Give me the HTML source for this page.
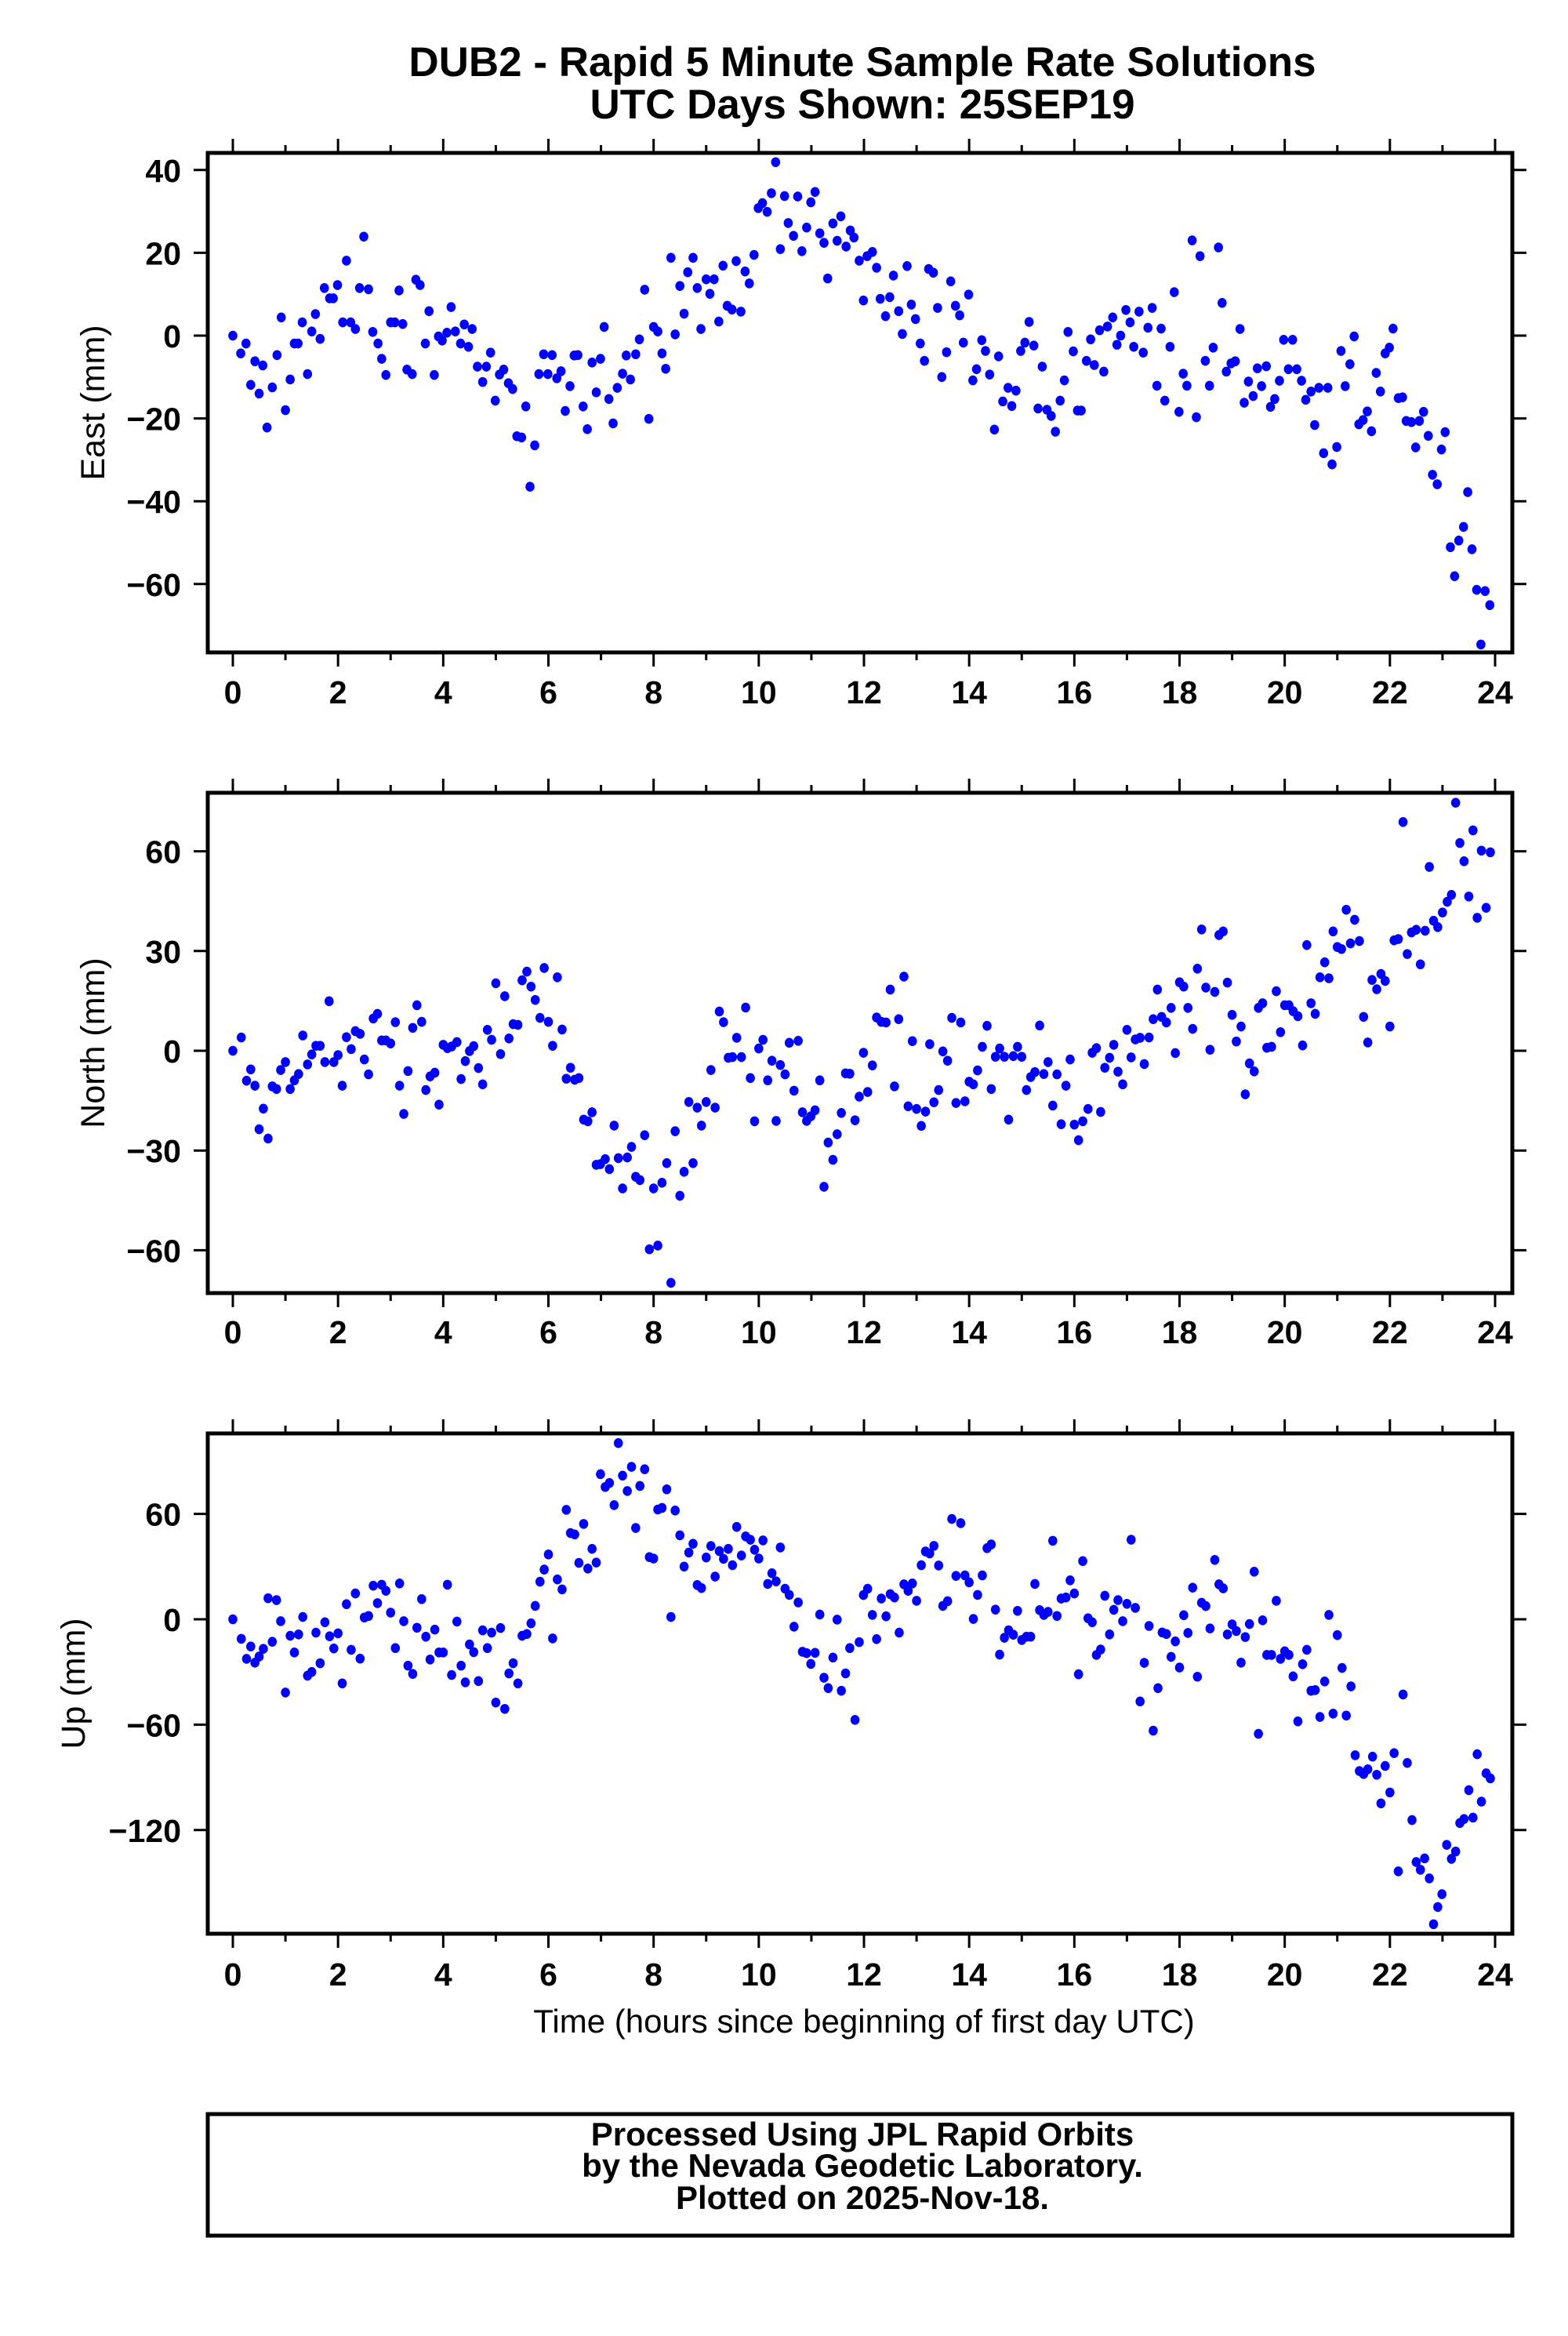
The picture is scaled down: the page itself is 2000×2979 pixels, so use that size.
<!DOCTYPE html>
<html><head><meta charset="utf-8"><style>
html,body{margin:0;padding:0;background:#fff;}
svg{display:block;font-family:"Liberation Sans",Arial,sans-serif;}
</style></head><body>
<svg id="chart" width="2000" height="2979" viewBox="0 0 2000 2979" xmlns="http://www.w3.org/2000/svg">
<rect x="0" y="0" width="2000" height="2979" fill="#fff"/>
<text x="1100" y="97" text-anchor="middle" font-size="53" font-weight="bold">DUB2 - Rapid 5 Minute Sample Rate Solutions</text>
<text x="1100" y="151" text-anchor="middle" font-size="53" font-weight="bold">UTC Days Shown:  25SEP19</text>
<text x="1102" y="2592" text-anchor="middle" font-size="42">Time (hours since beginning of first day UTC)</text>
<rect x="265" y="2696" width="1664" height="155" fill="none" stroke="#000" stroke-width="5"/>
<text x="1100" y="2736" text-anchor="middle" font-size="42" font-weight="bold">Processed Using JPL Rapid Orbits</text>
<text x="1100" y="2776" text-anchor="middle" font-size="42" font-weight="bold">by the Nevada Geodetic Laboratory.</text>
<text x="1100" y="2817" text-anchor="middle" font-size="42" font-weight="bold">Plotted on 2025-Nov-18.</text>
<g id="plots"></g>
</svg>
<script>
const xTicks = [0,2,4,6,8,10,12,14,16,18,20,22,24];
const eastTicks = [40,20,0,-20,-40,-60];
const northTicks = [60,30,0,-30,-60];
const upTicks = [60,0,-60,-120];
const eastT = [0,.15,.25,.34,.42,.5,.57,.65,.75,.84,.92,1.0,1.09,1.17,1.24,1.32,1.42,1.5,1.57,1.66,1.74,1.84,1.91,1.99,2.09,2.16,2.24,2.33,2.41,2.49,2.58,2.66,2.76,2.83,2.91,3.0,3.08,3.16,3.23,3.31,3.41,3.48,3.56,3.66,3.73,3.83,3.91,3.98,4.07,4.15,4.23,4.33,4.4,4.48,4.55,4.65,4.75,4.82,4.9,4.99,5.07,5.15,5.24,5.32,5.4,5.49,5.57,5.65,5.74,5.82,5.91,5.99,6.07,6.16,6.24,6.32,6.41,6.49,6.56,6.66,6.74,6.83,6.91,6.99,7.06,7.15,7.23,7.31,7.41,7.48,7.56,7.66,7.73,7.83,7.91,8.0,8.08,8.16,8.23,8.33,8.41,8.5,8.58,8.65,8.75,8.83,8.9,9.0,9.07,9.15,9.24,9.32,9.4,9.49,9.57,9.66,9.74,9.82,9.91,9.99,10.07,10.16,10.24,10.32,10.41,10.49,10.56,10.66,10.74,10.82,10.91,10.99,11.07,11.16,11.24,11.31,11.41,11.49,11.56,11.66,11.74,11.81,11.91,11.99,12.06,12.16,12.24,12.31,12.41,12.49,12.56,12.66,12.73,12.82,12.9,12.98,13.07,13.15,13.23,13.32,13.4,13.48,13.57,13.65,13.74,13.82,13.89,13.99,14.07,14.14,14.24,14.31,14.39,14.48,14.56,14.64,14.74,14.81,14.89,14.98,15.06,15.14,15.23,15.31,15.39,15.48,15.56,15.64,15.73,15.81,15.88,15.98,16.06,16.13,16.23,16.31,16.38,16.48,16.56,16.63,16.73,16.81,16.88,16.98,17.06,17.13,17.23,17.31,17.4,17.48,17.57,17.65,17.72,17.82,17.9,17.99,18.07,18.14,18.24,18.32,18.39,18.49,18.57,18.64,18.74,18.81,18.89,18.98,19.06,19.15,19.23,19.31,19.4,19.48,19.56,19.65,19.73,19.81,19.9,19.98,20.07,20.15,20.23,20.32,20.4,20.5,20.57,20.65,20.74,20.82,20.9,20.99,21.07,21.15,21.24,21.32,21.41,21.49,21.57,21.65,21.74,21.82,21.91,21.99,22.06,22.16,22.24,22.31,22.41,22.49,22.56,22.64,22.73,22.81,22.9,22.98,23.05,23.15,23.23,23.31,23.4,23.48,23.56,23.65,23.73,23.81,23.9];
const eastV = [0,-4.3,-1.9,-11.9,-6.2,-14,-7.2,-22.2,-12.5,-4.7,4.4,-18,-10.6,-1.9,-1.9,3.2,-9.3,1,5.2,-.8,11.5,9,9,12.2,3.2,18.1,3.2,1.6,11.5,23.9,11.2,.9,-1.9,-5.6,-9.5,3.2,3.2,10.9,2.8,-8.2,-9.3,13.5,12.2,-1.9,5.9,-9.5,-.2,-1.2,.7,6.9,1,-1.9,2.7,-2.7,1.6,-7.5,-11.2,-7.5,-4.1,-15.7,-9.4,-8.2,-11.5,-12.9,-24.3,-24.6,-17.1,-36.5,-26.5,-9.3,-4.5,-9.3,-4.7,-10.3,-8.6,-18.2,-12.2,-4.8,-4.7,-17.1,-22.6,-6.5,-13.7,-5.6,2.1,-15.3,-21.2,-12.6,-9.2,-4.8,-10.6,-4.5,-.9,11.1,-20.1,2.1,1,-4.3,-8,18.8,.3,12,5.3,15.3,18.8,11.5,1.6,13.6,10.1,13.6,3.4,16.9,7.2,6.3,18,5.8,15.5,12.6,19.5,30.8,32,29.9,34.4,41.9,20.9,33.7,27.2,24.1,33.6,20.4,26.1,32.2,34.7,24.7,22.4,13.8,27.1,22.9,28.8,21.5,25.4,23.7,18.1,8.5,19.2,20.2,16.4,8.9,4.7,9.3,14.5,5.9,.4,16.8,7.5,4,-1.9,-6.1,16.1,15.2,6.7,-10,-4,13.1,7.2,4.9,-1.7,9.9,-10.8,-8.1,-1.1,-3.7,-9.4,-22.7,-5,-15.9,-12.6,-17,-13.3,-3.7,-1.7,3.3,-2.4,-17.6,-7.5,-17.9,-19.4,-23.2,-15.7,-10.8,.9,-3.8,-18.1,-18.1,-6.1,-.9,-7.1,1.3,-8.7,2.2,4.4,-2.2,0,6.2,3.2,-2.7,5.8,-4.1,1.9,6.7,-12.1,1.7,-15.7,-2.7,10.5,-18.4,-9.2,-12.1,23,-19.7,19.2,-6.1,-12.1,-2.9,21.3,7.9,-8.7,-6.7,-6.2,1.6,-16.2,-11.1,-14.6,-7.9,-12.2,-7.4,-17.2,-15.3,-10.9,-1,-8.1,-1,-8.1,-10.9,-15.5,-13.5,-21.6,-12.6,-28.4,-12.6,-31.1,-26.9,-3.7,-12.2,-6.9,-.2,-21.4,-20.4,-18.3,-23.1,-9,-13.5,-4.3,-2.9,1.7,-15.1,-14.9,-20.6,-20.9,-27,-20.6,-18.4,-24.2,-33.6,-35.9,-27.5,-23.3,-51.1,-58.1,-49.5,-46.2,-37.8,-51.6,-61.4,-74.6,-61.7,-65.1];
const northT = [0,.16,.26,.34,.42,.5,.58,.67,.75,.83,.91,1.0,1.09,1.17,1.25,1.33,1.42,1.5,1.58,1.66,1.75,1.83,1.92,2.0,2.08,2.16,2.25,2.33,2.42,2.5,2.58,2.67,2.75,2.83,2.91,3.0,3.09,3.17,3.25,3.33,3.42,3.5,3.59,3.67,3.75,3.84,3.92,4.0,4.08,4.16,4.26,4.34,4.42,4.5,4.58,4.67,4.75,4.84,4.92,5.0,5.09,5.17,5.25,5.33,5.42,5.5,5.59,5.67,5.75,5.84,5.92,6.0,6.08,6.17,6.26,6.34,6.42,6.5,6.58,6.67,6.75,6.83,6.91,6.99,7.08,7.16,7.25,7.33,7.41,7.5,7.58,7.66,7.74,7.83,7.92,8.0,8.08,8.16,8.25,8.33,8.41,8.5,8.58,8.67,8.75,8.83,8.91,9.0,9.09,9.17,9.25,9.33,9.42,9.5,9.58,9.67,9.75,9.84,9.92,10.0,10.08,10.17,10.25,10.33,10.41,10.5,10.58,10.67,10.75,10.83,10.91,10.99,11.07,11.16,11.24,11.32,11.41,11.49,11.57,11.65,11.73,11.83,11.91,11.99,12.07,12.16,12.24,12.33,12.42,12.5,12.58,12.66,12.76,12.84,12.92,13.0,13.09,13.17,13.25,13.33,13.42,13.5,13.59,13.67,13.75,13.84,13.92,14.0,14.08,14.16,14.25,14.34,14.42,14.5,14.58,14.67,14.75,14.84,14.92,15.0,15.09,15.17,15.25,15.34,15.42,15.5,15.59,15.67,15.75,15.84,15.92,16.0,16.08,16.16,16.26,16.34,16.42,16.5,16.58,16.67,16.75,16.83,16.92,17.0,17.08,17.16,17.25,17.33,17.42,17.5,17.58,17.66,17.75,17.84,17.92,18.0,18.08,18.16,18.25,18.34,18.42,18.5,18.58,18.67,18.75,18.83,18.91,19.0,19.08,19.17,19.25,19.33,19.42,19.5,19.58,19.66,19.75,19.84,19.92,20.0,20.08,20.16,20.25,20.34,20.42,20.5,20.58,20.67,20.76,20.84,20.92,21.0,21.08,21.17,21.25,21.33,21.42,21.5,21.58,21.66,21.75,21.83,21.91,22.0,22.08,22.16,22.25,22.33,22.41,22.5,22.58,22.67,22.75,22.83,22.91,23.0,23.09,23.17,23.25,23.33,23.41,23.5,23.58,23.66,23.74,23.83,23.91];
const northV = [0,4,-9,-5.6,-10.5,-23.6,-17.4,-26.4,-10.7,-11.5,-5.8,-3.4,-11.5,-8.9,-7,4.6,-4.1,-1.1,1.5,1.5,-3.4,14.9,-3.4,-1.3,-10.5,4.1,.5,5.9,5.1,-2.6,-7.1,9.7,11.1,3.1,3.1,2.2,8.6,-10.5,-19,-6.1,6.9,13.7,8.7,-11.8,-7.7,-6.6,-16.2,1.8,.8,1.3,2.6,-8.5,-3.1,-.1,1.4,-5.2,-10.1,6.3,3.3,20.3,-1,16.4,3.7,8,7.8,21.2,23.8,19.3,15.3,9.9,24.9,8.7,1.5,22.1,6.4,-8.4,-5.1,-8.7,-8.2,-20.7,-21.2,-18.5,-34.3,-34.1,-32.6,-35.6,-22.5,-32.3,-41.4,-32.1,-28.9,-37.9,-38.9,-25.4,-59.7,-41.4,-58.6,-39.7,-33.8,-69.8,-24.2,-43.6,-36.4,-15.4,-33.8,-17.1,-22.5,-15.4,-5.8,-17.1,11.8,8.6,-2.1,-1.9,3.9,-1.9,13,-8.2,-21.2,.7,3.3,-8.9,-3,-21.1,-4.3,-7.1,2.4,-12,3,-18.5,-21.1,-19.7,-17.9,-8.9,-40.9,-27.6,-32.8,-25.1,-18.7,-6.8,-6.9,-20.9,-13.8,-.6,-12.4,-4.4,10,8.7,8.5,18.4,-10.7,9.5,22.3,-16.7,2.9,-17.5,-22.6,-18.3,2,-15.5,-11.8,-.2,-3,9.9,-15.7,8.5,-15.2,-9.3,-10.1,-5.9,1.2,7.5,-11.5,-1.8,.7,-1.8,-20.7,-1.6,1.2,-1.8,-11.8,-7.9,-6.4,7.6,-7,-3.4,-16.5,-7.1,-22.1,-10.5,-2.6,-22.2,-26.9,-21.2,-17.5,-.6,.8,-18.4,-5.1,-2.1,1.8,-6.3,-10.1,6.3,-2,3.4,3.9,-4,4,9.5,18.4,10.2,8.5,12.9,-.7,20.6,19.3,12.9,6.6,24.7,36.5,19,.3,17.7,34.8,35.9,20.5,10.8,2.8,7.3,-13.1,-3.8,-6.2,12.9,14.3,.9,1.2,17.9,5.6,13.7,13.7,11.9,10.4,1.6,31.8,14.3,11.1,22.1,26.6,21.8,35.9,31.2,30.6,42.4,32.3,39.4,33,10.2,2.5,21.3,18.5,23.1,21,7.3,33.2,33.6,68.8,29.1,35.6,36.4,26,36.1,55.3,39.1,37.2,41.6,44.8,46.9,74.6,62.5,57,46.4,66.3,40,60.2,43,59.7];
const upT = [0,.16,.26,.34,.42,.5,.58,.67,.75,.83,.91,1.0,1.09,1.17,1.25,1.33,1.42,1.5,1.58,1.66,1.75,1.84,1.92,2.0,2.08,2.16,2.25,2.33,2.42,2.5,2.58,2.67,2.75,2.83,2.91,3.0,3.09,3.17,3.25,3.33,3.42,3.5,3.59,3.67,3.75,3.84,3.92,4.0,4.08,4.16,4.26,4.34,4.42,4.5,4.58,4.67,4.75,4.84,4.92,5.0,5.09,5.17,5.25,5.33,5.42,5.5,5.59,5.67,5.75,5.84,5.92,6.0,6.08,6.17,6.26,6.34,6.42,6.5,6.58,6.67,6.75,6.83,6.91,6.99,7.08,7.16,7.25,7.33,7.41,7.5,7.58,7.66,7.74,7.83,7.92,8.0,8.08,8.16,8.25,8.33,8.41,8.5,8.58,8.67,8.75,8.83,8.91,9.0,9.09,9.17,9.25,9.33,9.42,9.5,9.58,9.67,9.75,9.84,9.92,10.0,10.08,10.17,10.25,10.33,10.41,10.5,10.58,10.67,10.75,10.83,10.91,10.99,11.07,11.16,11.24,11.32,11.41,11.49,11.57,11.65,11.73,11.83,11.91,11.99,12.07,12.16,12.24,12.33,12.42,12.5,12.58,12.67,12.76,12.84,12.92,13.0,13.09,13.17,13.25,13.33,13.42,13.5,13.59,13.67,13.75,13.84,13.92,14.0,14.08,14.16,14.25,14.34,14.42,14.5,14.58,14.67,14.75,14.84,14.92,15.0,15.09,15.17,15.25,15.34,15.42,15.5,15.59,15.67,15.75,15.84,15.92,16.0,16.08,16.16,16.26,16.34,16.42,16.5,16.58,16.67,16.75,16.83,16.92,17.0,17.08,17.16,17.25,17.33,17.42,17.5,17.59,17.67,17.75,17.84,17.92,18.0,18.08,18.16,18.25,18.34,18.42,18.5,18.58,18.67,18.75,18.83,18.91,19.0,19.08,19.17,19.25,19.33,19.42,19.5,19.58,19.66,19.75,19.84,19.92,20.0,20.08,20.16,20.25,20.34,20.42,20.5,20.58,20.67,20.76,20.84,20.92,21.0,21.09,21.17,21.26,21.34,21.42,21.5,21.58,21.67,21.75,21.83,21.91,22.0,22.08,22.16,22.25,22.33,22.42,22.5,22.58,22.66,22.75,22.83,22.91,22.99,23.08,23.17,23.25,23.33,23.41,23.5,23.58,23.66,23.74,23.83,23.91];
const upV = [0,-11.1,-22.5,-15.5,-24.7,-21.2,-16.8,12,-12.8,10.9,-1.1,-41.7,-9.4,-18.9,-8.6,1.3,-32.1,-30,-7.6,-25,-1.7,-9.7,-16.6,-8,-36.5,8.6,-17.4,14.7,-22.4,1,1.9,19.1,9.2,19.7,16.2,3.8,-16.4,20.4,-1.1,-26.4,-31.1,-4.8,11.5,-9.9,-22.9,-5.9,-18.9,-18.9,19.7,-31.7,-1.3,-26.4,-35.9,-14.3,-18.7,-35.2,-6.3,-16.4,-7.6,-47.4,-5,-51,-30.8,-25,-36.5,-9.4,-8.4,-2.3,7.6,21.4,28.3,36.9,-10.9,22.7,17,62.3,49.1,48.3,32.1,54.3,28.9,40.1,32.3,82.6,75.3,77.6,65,100.3,81.8,73,86.8,52,75.9,85.4,35.4,34.6,62.5,63.4,74,1.3,61.9,47.8,30,38,43,19.5,17.8,35.2,41.7,24.3,38.8,34.4,40.1,30.8,52.6,36.3,47.2,45.3,39.6,34.6,44.9,20.1,26.2,21.6,40.9,17.4,13.9,-4.2,9.6,-18.5,-19.3,-25.4,-19.1,2.7,-33.3,-39.2,-21.8,-.2,-40.7,-30.8,-16.4,-57.3,-13,13.8,17.4,2.5,-11.3,11.8,1.7,14.3,12.4,-7.6,19.9,16.2,20.4,10.5,30.8,38.6,37.5,41.8,30.6,7.6,10.3,57.1,24.7,54.7,25,21,.2,13.9,25,40.5,42.6,5.5,-20.1,-10.5,-6.3,-8.8,4.8,-11.8,-9.9,-9.9,20.1,5.2,2.5,4.2,44.7,1.9,11.8,12.4,22.2,14.7,-31.3,33.1,.6,-1.7,-20.3,-17.2,13.4,-8.6,5.4,10.9,-1.1,8.8,45.3,6.5,-46.8,-24.8,-3.8,-63.4,-39.2,-7.5,-8.4,-21.4,-12.6,-27.5,2.3,-7.8,18,-32.7,9.4,7.5,-5.2,33.8,19.9,17.6,-8.6,-2.9,-6.7,-24.7,-10.1,-2.7,27.1,-65.2,-.6,-20.3,-20.3,10.5,-22.5,-18.2,-20.3,-32.5,-58.1,-25.6,-17.4,-40.7,-40.3,-55.6,-35.4,2.5,-53.7,-9,-27.7,-54.8,-38.2,-77.4,-86.4,-88.1,-85.4,-78.2,-88.5,-104.8,-83.5,-98.6,-76.2,-143.5,-42.8,-81.8,-114.3,-138.2,-142.6,-136.1,-147.5,-173.6,-163.8,-156.5,-128.4,-136.4,-132.2,-116,-113.7,-97.3,-112.9,-76.8,-103.8,-87.7,-90.6];

const NS = 'http://www.w3.org/2000/svg';
const root = document.getElementById('plots');
const X0 = 297, PXH = (1907 - 297) / 24, FL = 265, FR = 1929;
function xs(t){ return X0 + t * PXH; }
function mk(tag, attrs, parent){
  const e = document.createElementNS(NS, tag);
  for (const k in attrs) e.setAttribute(k, attrs[k]);
  parent.appendChild(e);
  return e;
}
const panels = [
  {key:'east', title:'East (mm)', top:195, bot:832, zeroY:428, ppm:5.28, ticks:eastTicks, T:eastT, V:eastV, ttlX:133, labY:897},
  {key:'north', title:'North (mm)', top:1011, bot:1649, zeroY:1340, ppm:4.24, ticks:northTicks, T:northT, V:northV, ttlX:133, labY:1713},
  {key:'up', title:'Up (mm)', top:1828, bot:2466, zeroY:2065, ppm:2.24, ticks:upTicks, T:upT, V:upV, ttlX:108, labY:2532}
];
panels.forEach(p => {
  const g = mk('g', {}, root);
  
  
  const ys = v => p.zeroY - v * p.ppm;
  for (let h = 0; h <= 24; h++) {
    const x = xs(h), major = h % 2 === 0, len = major ? 18 : 10;
    const tb = mk('line', {x1:x, x2:x, y1:p.bot, y2:p.bot + len, stroke:'#000', 'stroke-width':3}, g);
    
    
    const tt = mk('line', {x1:x, x2:x, y1:p.top, y2:p.top - len, stroke:'#000', 'stroke-width':3}, g);
    
    
  }
  xTicks.forEach(h => {
    const t = mk('text', {x:xs(h), y:p.labY, 'text-anchor':'middle', 'font-size':41, 'font-weight':'bold'}, g);
    t.textContent = h;
    
    
  });
  p.ticks.forEach(v => {
    const y = ys(v);
    const l = mk('line', {x1:FL - 18, x2:FL, y1:y, y2:y, stroke:'#000', 'stroke-width':3}, g);
    
    
    const r = mk('line', {x1:FR, x2:FR + 18, y1:y, y2:y, stroke:'#000', 'stroke-width':3}, g);
    
    
    const t = mk('text', {x:FL - 34, y:y + 15, 'text-anchor':'end', 'font-size':41, 'font-weight':'bold'}, g);
    t.textContent = v < 0 ? '\u2212' + (-v) : String(v);
    
    
  });
  const cy = (p.top + p.bot) / 2;
  const yt = mk('text', {x:p.ttlX, y:cy, 'text-anchor':'middle', 'font-size':43, transform:'rotate(-90 ' + p.ttlX + ' ' + cy + ')'}, g);
  yt.textContent = p.title;
  
  
  const dg = mk('g', {fill:'#0000ff'}, g);
  
  
  p.T.forEach((t, i) => {
    const c = mk('ellipse', {cx:xs(t), cy:ys(p.V[i]), rx:5.8, ry:6.3}, dg);
    
    
  });
  const fr = mk('rect', {x:FL, y:p.top, width:FR - FL, height:p.bot - p.top, fill:'none', stroke:'#000', 'stroke-width':5}, g);
  
  
});
</script>
</body></html>
